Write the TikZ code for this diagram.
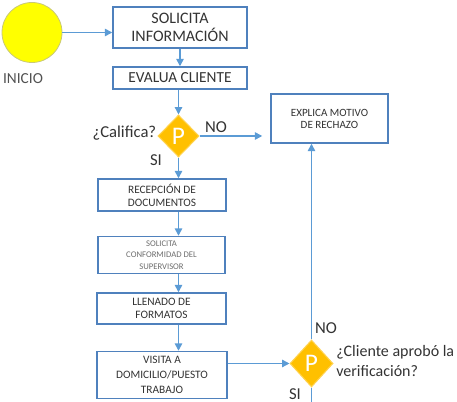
\documentclass[tikz,border=0pt]{standalone}
\usepackage{fontspec}
\setmainfont{Carlito}
\usetikzlibrary{shapes.geometric,arrows.meta}
\definecolor{boxline}{HTML}{4F81BD}
\definecolor{flow}{HTML}{5B9BD5}
\definecolor{gold}{HTML}{FFC000}
\definecolor{goldline}{HTML}{FFD24D}
\definecolor{sun}{HTML}{FFFF00}
\definecolor{sunline}{HTML}{C8C878}
\definecolor{txt}{HTML}{333333}
\definecolor{faint}{HTML}{6E6E6E}
\begin{document}
\begin{tikzpicture}[x=0.75pt,y=-0.75pt,
  stepbox/.style={draw=boxline,line width=1.1pt,fill=white,text=txt,
    align=center,inner sep=0pt},
  decision/.style={diamond,draw=goldline,line width=0.8pt,fill=gold,
    text=white,inner sep=0pt,font=\fontsize{19}{19}\selectfont},
  lbl/.style={text=txt,inner sep=0pt,font=\fontsize{12.5}{14}\selectfont},
  flowline/.style={draw=flow,line width=1.1pt},
  flowarrow/.style={flowline,-{Triangle[length=5.5pt,width=5.5pt]}}]
\useasboundingbox (0,0) rectangle (457,402);

% start event
\node[circle,draw=sunline,line width=0.6pt,fill=sun,minimum size=45pt,inner sep=0pt]
  (start) at (32,32.5) {};
\node[text=txt!85,font=\fontsize{11.5}{12}\selectfont] (inicio) at (23,79) {INICIO};

% main column of steps
\node[stepbox,minimum width=100.5pt,minimum height=30.75pt,
  font=\fontsize{12}{13.5}\selectfont] (b1) at (180,27.5) {SOLICITA\\INFORMACIÓN};
\node[stepbox,minimum width=100.5pt,minimum height=16.5pt,
  font=\fontsize{11.5}{12}\selectfont] (b2) at (180,78) {EVALUA CLIENTE};
\node[decision,minimum width=30.75pt,minimum height=31.5pt] (d1) at (178.5,136) {P};
\node[stepbox,minimum width=96pt,minimum height=24pt,
  font=\fontsize{8.5}{9.5}\selectfont] (b3) at (162,195) {RECEPCIÓN DE\\DOCUMENTOS};
\node[stepbox,minimum width=95.25pt,minimum height=27.75pt,text=faint,
  font=\fontsize{6.5}{8.8}\selectfont] (b4) at (161.5,255) {SOLICITA\\CONFORMIDAD DEL\\SUPERVISOR};
\node[stepbox,minimum width=96.75pt,minimum height=23.25pt,
  font=\fontsize{8.5}{10}\selectfont] (b5) at (161.5,308.5) {LLENADO DE\\FORMATOS};
\node[stepbox,minimum width=97.5pt,minimum height=35.25pt,
  font=\fontsize{8.5}{11}\selectfont] (b6) at (162,375) {VISITA A\\DOMICILIO/PUESTO\\TRABAJO};

% rejection branch
\node[stepbox,minimum width=87.75pt,minimum height=36.75pt,
  font=\fontsize{8.3}{9}\selectfont] (rej) at (329.5,118.5) {EXPLICA MOTIVO\\DE RECHAZO};
\node[decision,minimum width=32.25pt,minimum height=35.25pt] (d2) at (311.5,363.5) {P};
\coordinate (exit) at (311.5,402);

% labels
\node[lbl,anchor=east] (q1) at (156.5,133) {¿Califica?};
\node[lbl] (no1) at (216,127) {NO};
\node[lbl] (si1) at (156,160) {SI};
\node[lbl] (no2) at (326,328) {NO};
\node[lbl] (si2) at (295,394) {SI};
\node[lbl,anchor=west,align=left,font=\fontsize{12}{15}\selectfont]
  (q2) at (336,361.5) {¿Cliente aprobó la\\verificación?};

% connectors
\draw[flowarrow] (start.east) -- (start.east -| b1.west);
\draw[flowarrow] (b1) -- (b2);
\draw[flowarrow] (d1.north |- b2.south) -- (d1.north);
\draw[flowarrow,shorten >=6pt] (d1.east) -- (rej.west |- d1.east);
\draw[flowarrow] (d1.south) -- (d1.south |- b3.north);
\draw[flowarrow] (d1.south |- b3.south) -- (d1.south |- b4.north);
\draw[flowarrow] (d1.south |- b4.south) -- (d1.south |- b5.north);
\draw[flowarrow] (d1.south |- b5.south) -- (d1.south |- b6.north);
\draw[flowarrow] (b6.east |- d2.west) -- (d2.west);
\draw[flowarrow] (d2.north) -- (d2.north |- rej.south);
\draw[flowline] (d2.south) -- (exit);
\end{tikzpicture}
\end{document}
